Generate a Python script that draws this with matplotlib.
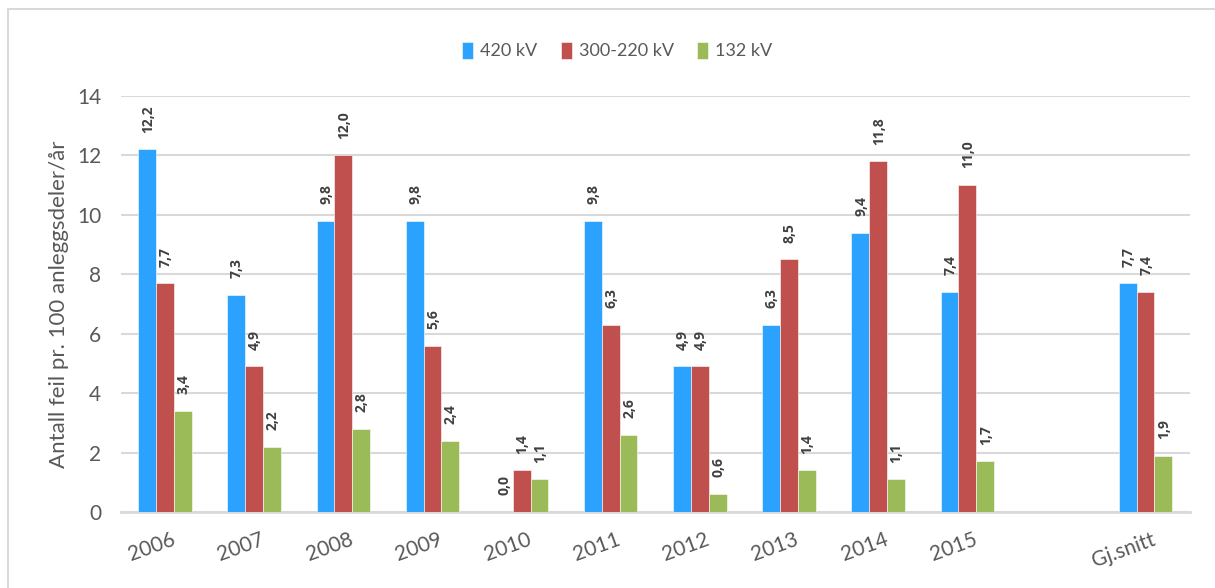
import matplotlib.pyplot as plt
import numpy as np
from matplotlib.patches import Rectangle
from matplotlib.transforms import ScaledTranslation

plt.rcParams['font.family'] = ['Lato', 'DejaVu Sans']

categories = ['2006', '2007', '2008', '2009', '2010', '2011', '2012',
              '2013', '2014', '2015', '', 'Gj.snitt']
series = ['420 kV', '300-220 kV', '132 kV']
kv420 = [12.2, 7.3, 9.8, 9.8, 0.0, 9.8, 4.9, 6.3, 9.4, 7.4, None, 7.7]
kv300 = [7.7, 4.9, 12.0, 5.6, 1.4, 6.3, 4.9, 8.5, 11.8, 11.0, None, 7.4]
kv132 = [3.4, 2.2, 2.8, 2.4, 1.1, 2.6, 0.6, 1.4, 1.1, 1.7, None, 1.9]
colors = ['#2CA2FF', '#C0504D', '#9BBB59']

text_gray = '#595959'
grid_gray = '#D9D9D9'

fig = plt.figure(figsize=(12.15, 5.88), dpi=100)
ax = fig.add_axes([0.0992, 0.1293, 0.8803, 0.7074])

# chart frame
fig.patches.append(Rectangle((8 / 1215, -0.01), 1.1, 1 - 9 / 588 + 0.01,
                             transform=fig.transFigure, fill=False,
                             edgecolor=grid_gray, linewidth=1.5, zorder=0))

x = np.arange(len(categories))
w = 0.2
for i, (name, vals) in enumerate(zip(series, [kv420, kv300, kv132])):
    xs = [xi + (i - 1) * w for xi, v in zip(x, vals) if v is not None]
    ys = [v for v in vals if v is not None]
    ax.bar(xs, ys, width=w, color=colors[i], label=name, zorder=3,
           edgecolor='white', linewidth=0.4)
    for xv, yv in zip(xs, ys):
        ax.annotate(f"{yv:.1f}".replace('.', ','), (xv, yv),
                    xytext=(0.5, 12), textcoords='offset points',
                    rotation=90, ha='center', va='bottom',
                    fontsize=10, fontweight='bold', color='#404040',
                    family=['Open Sans', 'DejaVu Sans'])

ax.set_xlim(-0.5, len(categories) - 0.5)
ax.set_ylim(0, 14)
ax.set_yticks(range(0, 15, 2))
ax.yaxis.grid(True, color=grid_gray, linewidth=1.5, zorder=0)
ax.set_axisbelow(True)
for s in ['left', 'right', 'top']:
    ax.spines[s].set_visible(False)
ax.spines['bottom'].set_color(grid_gray)
ax.spines['bottom'].set_linewidth(2)
ax.tick_params(axis='both', length=0, colors=text_gray, labelsize=15)
ax.tick_params(axis='y', pad=14)

ax.set_xticks(x)
ax.set_xticklabels(categories, rotation=20, ha='right', rotation_mode='anchor')
offset = ScaledTranslation(4 / 72, -9 / 72, fig.dpi_scale_trans)
for lbl in ax.get_xticklabels():
    lbl.set_transform(lbl.get_transform() + offset)

ax.set_ylabel('Antall feil pr. 100 anleggsdeler/år', fontsize=16,
              color=text_gray, labelpad=6)

fig.legend(loc='upper center', bbox_to_anchor=(0.508, 0.957), ncol=3,
           frameon=False, fontsize=13, handlelength=0.6, handleheight=1.1,
           handletextpad=0.4, columnspacing=1.3, labelcolor=text_gray)

fig.savefig('out.png', dpi=100)
